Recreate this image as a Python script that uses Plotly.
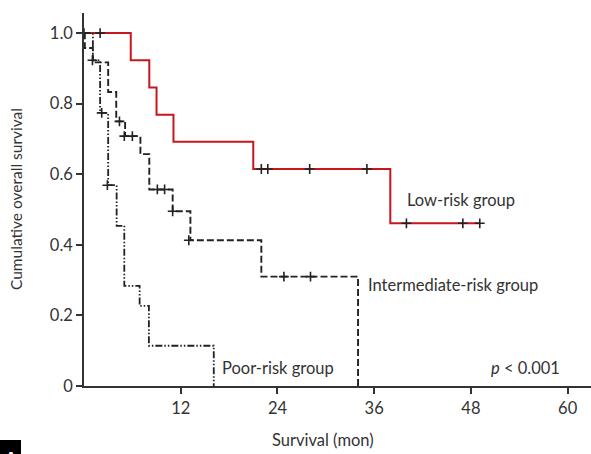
import plotly.graph_objects as go

# ---- data ----
low_t = [0, 5.8, 8.1, 9.0, 11.1, 21.0, 38.0, 49.1]
low_s = [1.0, 0.923, 0.846, 0.769, 0.692, 0.615, 0.461, 0.461]
low_cens_t = [2.0, 22.0, 22.8, 28.0, 35.1, 40.0, 47.0, 49.1]
low_cens_s = [1.0, 0.615, 0.615, 0.615, 0.615, 0.461, 0.461, 0.461]

int_t = [0, 0.1, 1.1, 3.0, 4.0, 5.1, 7.0, 8.1, 11.0, 13.2, 22.0, 34.0]
int_s = [1.0, 0.958, 0.917, 0.833, 0.75, 0.708, 0.657, 0.557, 0.495, 0.413, 0.31, 0.0]
int_cens_t = [0.0, 4.4, 5.0, 6.0, 9.1, 10.0, 11.0, 13.0, 24.8, 28.1]
int_cens_s = [1.0, 0.75, 0.708, 0.708, 0.557, 0.557, 0.495, 0.413, 0.31, 0.31]

poor_t = [0, 1.1, 2.0, 3.0, 4.05, 5.0, 6.9, 8.05, 16.1]
poor_s = [1.0, 0.923, 0.774, 0.569, 0.454, 0.284, 0.227, 0.114, 0.0]
poor_cens_t = [1.05, 2.2, 2.9]
poor_cens_s = [0.923, 0.774, 0.569]

x_ticks = [12, 24, 36, 48, 60]
y_ticks = [0, 0.2, 0.4, 0.6, 0.8, 1.0]
y_ticklabels = ["0", "0.2", "0.4", "0.6", "0.8", "1.0"]

RED = "#c8161e"
BLK = "#222222"
TXT = "#333333"
FONT = "Lato"
FS = 16.5

fig = go.Figure()

fig.add_trace(go.Scatter(x=low_t, y=low_s, mode="lines", line_shape="hv",
                         line=dict(color=RED, width=2), hoverinfo="skip"))
fig.add_trace(go.Scatter(x=int_t, y=int_s, mode="lines", line_shape="hv",
                         line=dict(color=BLK, width=1.9, dash="7px,3px"), hoverinfo="skip"))
fig.add_trace(go.Scatter(x=poor_t, y=poor_s, mode="lines", line_shape="hv",
                         line=dict(color=BLK, width=1.8, dash="7px,2px,1.5px,2px,1.5px,2px"),
                         hoverinfo="skip"))

for ct, cs in [(low_cens_t, low_cens_s), (int_cens_t, int_cens_s), (poor_cens_t, poor_cens_s)]:
    fig.add_trace(go.Scatter(x=ct, y=cs, mode="markers",
                             marker=dict(symbol="cross-thin", size=7,
                                         line=dict(color=BLK, width=1.6)),
                             hoverinfo="skip"))

# plot area in pixels: x 84..591, y 13..386
def px_to_paper_x(px):
    return (px - 84) / 507

def px_to_paper_y(py):
    return (386 - py) / 373

annotations = [
    dict(x=39.8, y=0.527, text="Low-risk group", xanchor="left", yanchor="middle",
         showarrow=False, font=dict(size=FS, color=TXT, family=FONT)),
    dict(x=35.0, y=0.286, text="Intermediate-risk group", xanchor="left", yanchor="middle",
         showarrow=False, font=dict(size=FS, color=TXT, family=FONT)),
    dict(x=16.9, y=0.051, text="Poor-risk group", xanchor="left", yanchor="middle",
         showarrow=False, font=dict(size=FS, color=TXT, family=FONT)),
    dict(x=50.2, y=0.051, text="<i>p</i> < 0.001", xanchor="left", yanchor="middle",
         showarrow=False, font=dict(size=FS, color=TXT, family=FONT)),
    dict(xref="paper", yref="paper", x=px_to_paper_x(323), y=px_to_paper_y(440),
         text="Survival (mon)", xanchor="center", yanchor="middle", showarrow=False,
         font=dict(size=FS, color=TXT, family=FONT)),
    dict(xref="paper", yref="paper", x=px_to_paper_x(16), y=px_to_paper_y(199),
         text="Cumulative overall survival", textangle=-90, xanchor="center",
         yanchor="middle", showarrow=False, font=dict(size=15.5, color=TXT, family=FONT)),
    dict(xref="paper", yref="paper", x=px_to_paper_x(10), y=px_to_paper_y(445),
         text="<b>A</b>", xanchor="center", yanchor="top", showarrow=False,
         font=dict(size=20, color="white", family=FONT)),
]

fig.update_layout(
    width=591, height=454,
    margin=dict(l=84, r=0, t=13, b=68),
    paper_bgcolor="white", plot_bgcolor="white",
    showlegend=False,
    annotations=annotations,
    shapes=[dict(type="rect", xref="paper", yref="paper",
                 x0=px_to_paper_x(0), x1=px_to_paper_x(21),
                 y0=px_to_paper_y(460), y1=px_to_paper_y(440),
                 fillcolor="black", line=dict(width=0), layer="below")],
    xaxis=dict(range=[0, 62.9], tickvals=x_ticks, ticks="outside", ticklen=6,
               tickwidth=1.5, tickcolor=TXT, showline=True, linecolor=TXT, linewidth=1.6,
               showgrid=False, zeroline=False,
               tickfont=dict(size=FS, color=TXT, family=FONT)),
    yaxis=dict(range=[0, 1.057], tickvals=y_ticks, ticktext=y_ticklabels, ticks="outside",
               ticklen=6, tickwidth=1.5, tickcolor=TXT, showline=True, linecolor=TXT,
               linewidth=1.6, showgrid=False, zeroline=False,
               tickfont=dict(size=FS, color=TXT, family=FONT)),
)

fig.write_html("out.html", config={"displayModeBar": False},
               post_script="document.body.style.margin='0';document.body.style.overflow='hidden';")
